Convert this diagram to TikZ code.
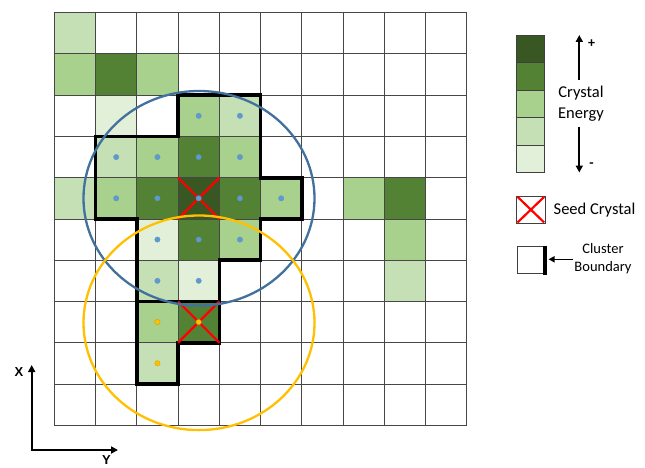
\documentclass[tikz,border=0pt]{standalone}
\usepackage{fontspec}
\setmainfont{Carlito}
\newfontfamily\axfont{Liberation Sans}
\usetikzlibrary{arrows.meta}
\definecolor{gA}{HTML}{E2F0D9}
\definecolor{gB}{HTML}{C5E0B4}
\definecolor{gC}{HTML}{A9D18E}
\definecolor{gD}{HTML}{548235}
\definecolor{gE}{HTML}{385723}
\definecolor{blueC}{HTML}{41719C}
\definecolor{blueDot}{HTML}{5B9BD5}
\definecolor{yelC}{HTML}{FFC000}
\tikzset{
  gridline/.style={draw=black!72, line width=0.9pt},
  boundary/.style={draw=black, line width=3.6pt, line join=miter},
  seedx/.style={draw=red, line width=2.2pt},
  bdot/.style={fill=blueDot, draw=blueC!80, line width=0.3pt},
  ydot/.style={fill=yelC, draw=yelC!80!black, line width=0.3pt},
  legbox/.style={draw=black!75, line width=0.9pt},
  bigarrow/.style={draw=black, line width=1.9pt, -{Triangle[length=7pt,width=7pt]}},
  lab/.style={font=\fontsize{16.5}{21}\selectfont, inner sep=0pt, align=center},
  smalllab/.style={font=\fontsize{14.5}{18}\selectfont, inner sep=0pt, align=center},
  axlab/.style={font=\axfont\bfseries\fontsize{13}{14}\selectfont, inner sep=0pt},
}
\begin{document}
\begin{tikzpicture}[x=1pt,y=-1pt]
\useasboundingbox (0,0) rectangle (645,468);
\fill[white] (0,0) rectangle (645,468);
\begin{scope}[xshift=54.3pt, yshift=-12.7pt, x=41.25pt, y=-41.25pt]
  % cell fills
  \foreach \c/\r/\col in {0/0/gB, 0/1/gC, 1/1/gD, 2/1/gC, 1/2/gA, 3/2/gC, 4/2/gB,
      1/3/gB, 2/3/gC, 3/3/gD, 4/3/gC, 0/4/gB, 1/4/gC, 2/4/gD, 3/4/gE, 4/4/gD, 5/4/gC,
      7/4/gC, 8/4/gD, 2/5/gA, 3/5/gD, 4/5/gC, 8/5/gC, 2/6/gB, 3/6/gA, 8/6/gB,
      2/7/gC, 3/7/gD, 2/8/gB}
    \fill[\col] (\c,\r) rectangle ++(1,1);
  % grid
  \foreach \i in {0,...,10} {
    \draw[gridline] (\i,0) -- (\i,10);
    \draw[gridline] (0,\i) -- (10,\i);
  }
  % cluster boundary
  \draw[boundary] (1,3) -- (3,3) -- (3,2) -- (5,2) -- (5,4) -- (6,4) -- (6,5) -- (5,5)
    -- (5,6) -- (4,6) -- (4,8) -- (3,8) -- (3,9) -- (2,9) -- (2,5) -- (1,5) -- cycle;
  \draw[boundary] (2,7) -- (4,7);
  % seed crystals
  \draw[seedx] (3,4) -- (4,5) (4,4) -- (3,5);
  \draw[seedx] (3,7) -- (4,8) (4,7) -- (3,8);
  % blue dots
  \foreach \c/\r in {3/2, 4/2, 1/3, 2/3, 3/3, 4/3, 1/4, 2/4, 3/4, 4/4, 5/4,
      2/5, 3/5, 4/5, 2/6, 3/6}
    \fill[bdot] (\c+0.5,\r+0.5) circle[radius=2.7pt];
  % yellow dots
  \foreach \c/\r in {2/7, 3/7, 2/8}
    \fill[ydot] (\c+0.5,\r+0.5) circle[radius=2.7pt];
\end{scope}
% cluster circles
\draw[blueC, line width=2.3pt] (199,198.3) ellipse [x radius=115.5pt, y radius=107.3pt];
\draw[yelC, line width=2.3pt] (199,322.8) ellipse [x radius=115.5pt, y radius=107.3pt];

% legend: energy bar
\foreach \k/\col in {0/gE, 1/gD, 2/gC, 3/gB, 4/gA}
  \filldraw[fill=\col, legbox] (516.7,35+27.5*\k) rectangle (544.4,62.5+27.5*\k);
\coordinate (upS) at (579.3,80);
\coordinate (upE) at (579.3,35);
\coordinate (dnS) at (579.3,127);
\coordinate (dnE) at (579.3,172.5);
\draw[bigarrow] (upS) -- (upE);
\draw[bigarrow] (dnS) -- (dnE);
\node[lab, font=\fontsize{14}{16}\selectfont\bfseries] (plus) at (591.5,44) {+};
\node[lab, font=\fontsize{14}{16}\selectfont\bfseries] (minus) at (591.5,165) {-};
\node[lab] (energy) at (581,104) {Crystal\\Energy};

% legend: seed crystal
\draw[legbox] (516.7,196) rectangle (545,223.3);
\draw[seedx] (517.5,196.8) -- (544.2,222.5) (544.2,196.8) -- (517.5,222.5);
\node[lab, anchor=west] (seed) at (553.5,210) {Seed Crystal};

% legend: cluster boundary
\draw[legbox] (517,246.7) rectangle (545,273.3);
\draw[black, line width=3.6pt] (545,245.5) -- (545,274.5);
\node[smalllab] (cluster) at (603,259) {Cluster\\Boundary};
\coordinate (cbS) at (573,259.3);
\coordinate (cbE) at (548.5,259.3);
\draw[draw=black, line width=1.6pt, -{Triangle[length=6pt,width=6pt]}] (cbS) -- (cbE);

% axes
\coordinate (ax0) at (31.7,450);
\coordinate (axX) at (31.7,365);
\coordinate (axY) at (118,450);
\draw[bigarrow, line cap=rect] (ax0) -- (axX);
\draw[bigarrow, line cap=rect] (ax0) -- (axY);
\node[axlab] (xl) at (19,372.5) {X};
\node[axlab] (yl) at (106.5,460.5) {Y};
\end{tikzpicture}
\end{document}
